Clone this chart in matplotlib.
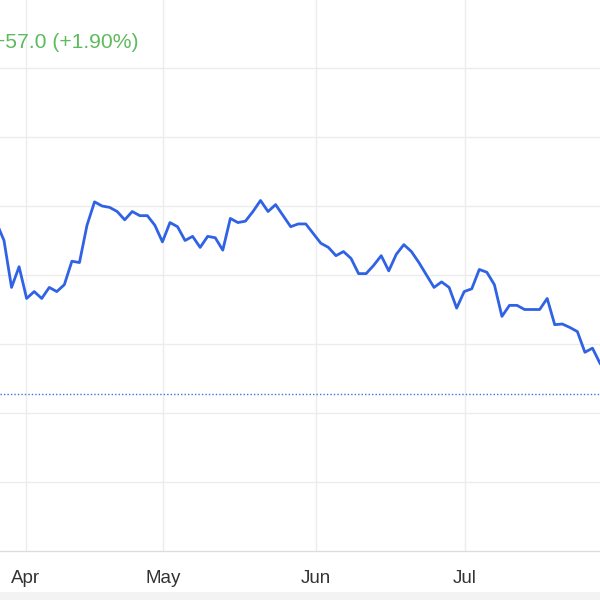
import numpy as np
from matplotlib import pyplot as plt
from matplotlib.patches import Rectangle

plt.rcParams['font.family'] = ['Liberation Sans', 'DejaVu Sans']

# closing prices, one per session (first one is just off the left edge)
prices = [
    3138, 3125, 3091, 3106, 3083, 3088, 3083, 3091, 3088, 3093,
    3110, 3109, 3136, 3153, 3150, 3149, 3146, 3140, 3146, 3143,
    3143, 3136, 3124, 3138, 3135, 3125, 3128, 3120, 3128, 3127,
    3118, 3141, 3138, 3139, 3146, 3154, 3146, 3151, 3143, 3135,
    3137, 3137, 3130, 3123, 3120, 3114, 3117, 3112, 3101, 3101,
    3107, 3114, 3103, 3115, 3122, 3117, 3109, 3100, 3091, 3095,
    3091, 3076, 3088, 3090, 3104, 3102, 3093, 3070, 3078, 3078,
    3075, 3075, 3075, 3083, 3064, 3064.5, 3062, 3059, 3044, 3047,
    3036,
]
month_labels = ['Apr', 'May', 'Jun', 'Jul']
month_pos = [3.92, 22.08, 42.36, 62.11]
prev_close = 3014
change_text = '+57.0 (+1.90%)'
y_grid = [2950, 3000, 3050, 3100, 3150, 3200, 3250]

line_color = '#2f62e4'
grid_color = '#ececec'

fig = plt.figure(figsize=(6, 6), dpi=100)
ax = fig.add_axes([0, 49 / 600, 1, 551 / 600])

x = np.arange(len(prices))
ax.plot(x, prices, color=line_color, linewidth=2.0, solid_joinstyle='round', zorder=3)
ax.axhline(prev_close, color='#3f72dc', linewidth=1.0, linestyle=(0, (1, 1.5)), zorder=2)

ax.set_xlim(0.47, 80.0)
ax.set_ylim(2900, 2900 + 551 / 69 * 50)

for v in y_grid:
    ax.axhline(v, color=grid_color, linewidth=1.0, zorder=1)
for p in month_pos:
    ax.axvline(p, color=grid_color, linewidth=1.0, zorder=1)

ax.set_xticks(month_pos)
ax.set_xticklabels(month_labels, fontsize=13.5, color='#333333')
ax.tick_params(axis='x', length=0, pad=14)
ax.set_yticks([])

for side in ['top', 'left', 'right']:
    ax.spines[side].set_visible(False)
ax.spines['bottom'].set_color('#dddddd')
ax.spines['bottom'].set_linewidth(1.0)

# the change label is cut by the left edge, as in the source screenshot
fig.text(-0.011, 1 - 42.5 / 600, change_text, fontsize=15.2, color='#5dba5d',
         ha='left', va='center')

# grey strip along the bottom edge
fig.patches.append(Rectangle((0, 0), 1, 8 / 600, transform=fig.transFigure,
                             facecolor='#f3f3f3', edgecolor='none'))

plt.savefig('out.png', dpi=100)
plt.close()
